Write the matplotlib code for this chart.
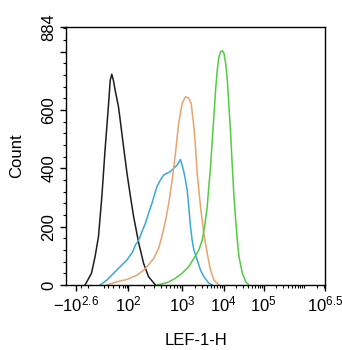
import numpy as np
import matplotlib
matplotlib.use("Agg")
import matplotlib.pyplot as plt
from matplotlib.ticker import FixedLocator, MultipleLocator

plt.rcParams['font.family'] = ['Liberation Sans', 'DejaVu Sans']
plt.rcParams['mathtext.fontset'] = 'custom'
plt.rcParams['mathtext.rm'] = 'Liberation Sans'
plt.rcParams['mathtext.it'] = 'Liberation Sans:italic'

# histogram traces: intensity (LEF-1-H) and count
black_x = [-238, -165, -134, -110, -73, -40, -18, -11, -5, 1, 6, 18, 26, 47, 82, 110, 126, 157, 193, 237, 318]
black_y = [0, 40, 97, 166, 303, 462, 622, 702, 722, 700, 668, 611, 565, 474, 383, 303, 234, 143, 74, 29, 0]

blue_x = [-100, -27, 1, 26, 82, 121, 136, 157, 180, 208, 237, 275, 318, 340, 393, 452, 522, 601,
          695, 800, 918, 985, 1075, 1183, 1300, 1425, 1567, 1720, 1890, 2280, 2748, 3300, 4370, 5300]
blue_y = [0, 17, 40, 63, 86, 114, 137, 154, 183, 211, 245, 280, 320, 337, 360, 377, 383, 389,
          400, 411, 430, 411, 389, 360, 326, 268, 200, 154, 120, 86, 51, 29, 6, 0]

orange_x = [-27, 12, 82, 147, 193, 237, 296, 365, 418, 485, 560, 648, 743, 852, 985, 1183, 1425,
            1630, 1890, 2075, 2280, 2748, 3300, 4000, 4819, 5800, 7700]
orange_y = [0, 11, 19, 34, 51, 69, 91, 126, 166, 217, 280, 360, 451, 554, 622, 645, 640,
            622, 543, 474, 383, 268, 177, 108, 51, 17, 0]

green_x = [340, 522, 743, 985, 1425, 1890, 2500, 3020, 3440, 4000, 4370, 4819, 5300, 5800, 6382,
           7020, 7700, 8450, 9300, 10200, 11220, 12380, 13580, 14960, 16480, 18100, 19950, 21950,
           24100, 29350, 35480, 42800]
green_y = [0, 8, 23, 40, 63, 91, 120, 154, 200, 268, 337, 405, 497, 577, 668,
           737, 782, 799, 803, 794, 760, 702, 611, 520, 405, 303, 223, 154,
           97, 40, 11, 0]

x_ticks = [-398.1, 100, 1e3, 1e4, 1e5, 3162278]
x_labels = ['$-10^{2.6}$', '$10^2$', '$10^3$', '$10^4$', '$10^5$', '$10^{6.5}$']
y_ticks = [0, 200, 400, 600, 800, 884]
y_labels = ['0', '200', '400', '600', '', '884']

# biexponential-like display scale (FlowJo style axis)
anchor_x = np.array([-1000, -398.1, -100, 0, 100, 1e3, 1e4, 1e5, 1e6, 3162278])
anchor_pos = np.array([0, 10, 34, 47, 62, 116, 157, 197, 237, 258])
anchor_g = np.arcsinh(anchor_x / 20)


def forward(x):
    return np.interp(np.arcsinh(np.asarray(x, float) / 20), anchor_g, anchor_pos)


def inverse(p):
    return 20 * np.sinh(np.interp(np.asarray(p, float), anchor_pos, anchor_g))


fig = plt.figure(figsize=(3.42, 3.5), dpi=100)
ax = fig.add_axes([66 / 342, 1 - 285 / 350, 259 / 342, 258 / 350])
ax.set_xscale('function', functions=(forward, inverse))

ax.plot(black_x, black_y, color='#1e1e1e', lw=1.1)
ax.plot(blue_x, blue_y, color='#3aa8d8', lw=1.1)
ax.plot(orange_x, orange_y, color='#e8a46c', lw=1.1)
ax.plot(green_x, green_y, color='#52cc42', lw=1.1)

ax.set_xlim(-1000, 3162278)
ax.set_ylim(0, 884)

minor = [-300, -200, -50, -20, 0, 20, 40, 60, 80]
for d in [100, 1e3, 1e4, 1e5]:
    minor += [d * k for k in range(2, 10)]
minor += [1e6, 2e6, 3e6]
ax.xaxis.set_major_locator(FixedLocator(x_ticks))
ax.set_xticklabels(x_labels)
ax.xaxis.set_minor_locator(FixedLocator(minor))
ax.set_yticks(y_ticks)
ax.set_yticklabels(y_labels, rotation=90, va='center')
ax.yaxis.set_minor_locator(MultipleLocator(40))

ax.tick_params(which='major', direction='out', length=4, width=1, labelsize=12, pad=3)
ax.tick_params(which='minor', direction='out', length=2, width=0.8)
for s in ax.spines.values():
    s.set_linewidth(1.0)

ax.set_xlabel('LEF-1-H', fontsize=12, labelpad=13)
ax.set_ylabel('Count', fontsize=12, labelpad=12)

fig.savefig('out.png', dpi=100)
